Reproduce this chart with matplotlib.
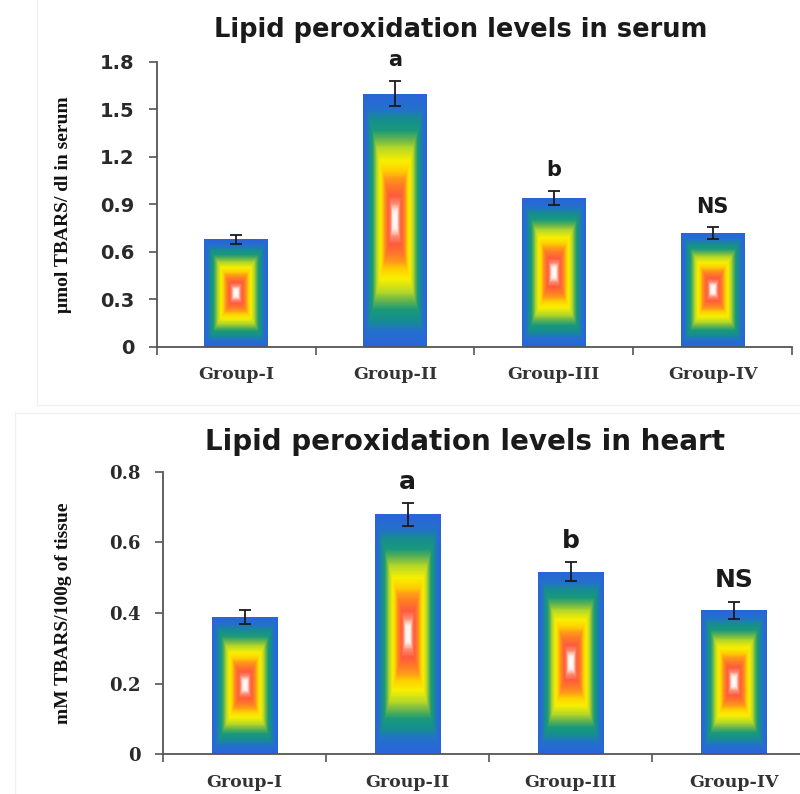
import numpy as np
import matplotlib.pyplot as plt
from matplotlib.colors import LinearSegmentedColormap
from matplotlib.lines import Line2D

groups = ['Group-I', 'Group-II', 'Group-III', 'Group-IV']

serum = [0.68, 1.60, 0.94, 0.72]
serum_err = [0.03, 0.08, 0.045, 0.035]
serum_marks = ['', 'a', 'b', 'NS']

heart = [0.388, 0.679, 0.517, 0.408]
heart_err = [0.019, 0.033, 0.027, 0.024]
heart_marks = ['', 'a', 'b', 'NS']

# excel style rectangular "from centre" fill: white middle, blue rim
grad = LinearSegmentedColormap.from_list('rect', [
    (0.00, '#ffffff'),
    (0.07, '#fff0ea'),
    (0.13, '#ff8a70'),
    (0.19, '#ff5a3c'),
    (0.27, '#ff7a28'),
    (0.33, '#ff9a1a'),
    (0.39, '#ffd000'),
    (0.47, '#f8f000'),
    (0.57, '#b4d828'),
    (0.63, '#70b848'),
    (0.71, '#1a9a7a'),
    (0.80, '#168c92'),
    (0.88, '#2470cc'),
    (1.00, '#2a64da'),
])

u = np.linspace(-1, 1, 240)
U, V = np.meshgrid(u, u)
D = np.maximum(np.abs(U), np.abs(V))


def draw_panel(ax, vals, errs, marks, ymax, step, title, title_size,
               title_x, title_gap, ylabel, ylabel_pad, tickfont,
               mark_size, mark_off):
    x = np.arange(len(groups))
    bars = ax.bar(x, vals, width=0.40, color='none', edgecolor='none', zorder=2)
    for b in bars:
        x0, y0 = b.get_x(), b.get_y()
        im = ax.imshow(D, cmap=grad, vmin=0, vmax=1, aspect='auto',
                       extent=[x0, x0 + b.get_width(), y0, y0 + b.get_height()],
                       interpolation='bilinear', zorder=2)
        im.set_clip_path(b)
    ax.set_xlim(-0.5, len(groups) - 0.5)
    ax.set_ylim(0, ymax)
    ax.errorbar(x, vals, yerr=errs, fmt='none', ecolor='#1a1a1a',
                elinewidth=1.3, capsize=4.5, capthick=1.3, zorder=3)
    for xi, v, e, m in zip(x, vals, errs, marks):
        if m:
            ax.text(xi, v + e + mark_off, m, ha='center', va='center',
                    fontsize=mark_size, fontweight='bold', color='#1a1a1a')

    ticks = np.arange(0, ymax + step / 2, step)
    ax.set_yticks(ticks)
    ax.set_yticklabels([('%g' % t) for t in ticks], **tickfont)
    ax.set_xticks(np.arange(-0.5, len(groups), 1.0))
    ax.set_xticklabels([])
    ax.set_xticks(x, minor=True)
    ax.set_xticklabels(groups, minor=True, family='DejaVu Serif',
                       fontweight='bold', fontsize=12.5, color='#333333')
    ax.tick_params(axis='x', which='minor', length=0, pad=14)
    ax.tick_params(axis='x', which='major', length=6, width=1.2,
                   color='#555555', direction='out')
    ax.tick_params(axis='y', length=6, width=1.2, color='#555555', pad=10)
    for s in ['top', 'right']:
        ax.spines[s].set_visible(False)
    for s in ['left', 'bottom']:
        ax.spines[s].set_color('#555555')
        ax.spines[s].set_linewidth(1.3)
    ax.annotate(title, xy=(title_x, 1), xycoords='axes fraction',
                xytext=(0, title_gap), textcoords='offset pixels',
                ha='center', va='center', fontsize=title_size,
                fontweight='bold', color='#1a1a1a')
    ax.set_ylabel(ylabel, family='Liberation Serif', fontweight='bold',
                  fontsize=14, color='#111111', labelpad=ylabel_pad)


fig = plt.figure(figsize=(8.0, 7.94), dpi=100)

# faint frames of the two pasted screenshots
fig.add_artist(Line2D([37 / 800, 37 / 800], [1, 1 - 405 / 794],
                      color='#f0f0f0', lw=1))
fig.add_artist(Line2D([37 / 800, 1], [1 - 405 / 794, 1 - 405 / 794],
                      color='#f0f0f0', lw=1))
fig.add_artist(Line2D([15 / 800, 1], [1 - 413 / 794, 1 - 413 / 794],
                      color='#f0f0f0', lw=1))
fig.add_artist(Line2D([15 / 800, 15 / 800], [1 - 413 / 794, 0],
                      color='#f0f0f0', lw=1))

ax1 = fig.add_axes([0.196, 0.563, 0.794, 0.359])
draw_panel(ax1, serum, serum_err, serum_marks, 1.8, 0.3,
           'Lipid peroxidation levels in serum', 18.5, 0.479, 32,
           'μmol TBARS/ dl in serum', 20,
           dict(fontsize=14, fontweight='bold', color='#2a2a2a'), 15, 0.13)

ax2 = fig.add_axes([0.204, 0.05, 0.815, 0.356])
draw_panel(ax2, heart, heart_err, heart_marks, 0.8, 0.2,
           'Lipid peroxidation levels in heart', 20, 0.463, 30,
           'mM TBARS/100g of tissue', 27,
           dict(fontsize=13, fontweight='bold', color='#2a2a2a',
                family='DejaVu Serif'), 18, 0.06)

fig.savefig('out.png', dpi=100)
